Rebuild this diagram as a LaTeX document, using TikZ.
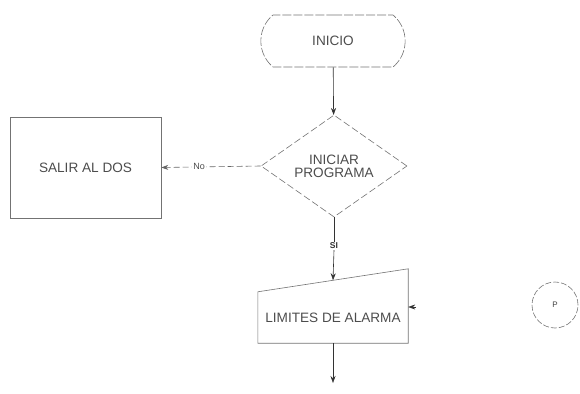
\documentclass[tikz,border=0pt]{standalone}
\usepackage{fontspec}
\setmainfont{Liberation Sans}
\usetikzlibrary{shapes.geometric,shapes.misc,arrows.meta,calc}
\begin{document}
\begin{tikzpicture}[x=1pt,y=-1pt,
  line/.style={draw=black!55, line width=0.6pt},
  flow/.style={draw=black!80, line width=0.6pt, -{Stealth[length=7pt,width=5pt]}},
  lbl/.style={text=black!70, font=\fontsize{13.6}{15}\selectfont, align=center},
  term/.style={rounded rectangle, rounded rectangle arc length=100, line, dash pattern=on 9pt off 2pt, minimum width=151pt, minimum height=52pt, lbl},
  dec/.style={diamond, line, dash pattern=on 7pt off 3pt, minimum width=146pt, minimum height=102pt, inner sep=0pt, lbl},
  proc/.style={rectangle, line, minimum width=151pt, minimum height=101pt, lbl},
  conn/.style={circle, line, dash pattern=on 6pt off 2pt, minimum size=46pt, inner sep=0pt, text=black!75, font=\fontsize{8}{9}\selectfont}
]
\useasboundingbox (0,0) rectangle (580,393);
\node[term] (ini) at (333,41) {INICIO};
\node[dec] (dec) at (334,166) {INICIAR\\[-2pt]PROGRAMA};
\node[proc] (sal) at (85.5,167.5) {SALIR AL DOS};
\node[lbl, minimum width=150pt, minimum height=51pt, inner sep=0pt] (lim) at (333,317.5) {LIMITES DE ALARMA};
\draw[line] (lim.south west) -- (lim.north west) -- ([yshift=23pt]lim.north east) -- (lim.south east) -- cycle;
\coordinate (limtop) at ($(lim.north west)!0.5!([yshift=23pt]lim.north east)$);
\node[conn] (p) at (555,305) {P};
\node[text=black!80, font=\fontsize{8.5}{9}\selectfont\bfseries, inner sep=1pt] (si) at (334,246) {SI};
\coordinate (inP) at (416,307);
\coordinate (fin) at (333,383);
\draw[flow] (ini) -- (dec);
\draw[flow, draw=black!60, dash pattern=on 6pt off 3pt] (dec.west) -- node[pos=0.62, fill=white, inner sep=1pt, text=black!70, font=\fontsize{9}{10}\selectfont] (no) {No} (sal.east);
\draw[line, draw=black!80] (dec.south) -- (si.north);
\draw[flow] (si.south) -- (limtop);
\draw[flow] (inP) -- ([yshift=10.5pt]lim.east);
\draw[flow] (lim.south) -- (fin);
\end{tikzpicture}
\end{document}
